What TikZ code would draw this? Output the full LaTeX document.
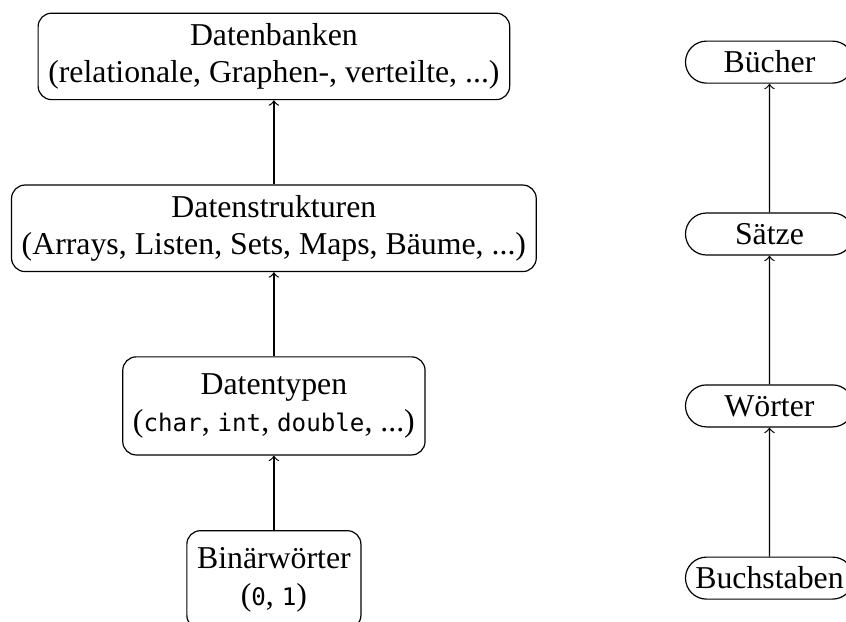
\documentclass[tikz,border=0pt]{standalone}
\usepackage{fontspec}
\setmainfont{Liberation Serif}
\setmonofont[Scale=0.76]{DejaVu Sans Mono}
\usetikzlibrary{shapes.misc}
\tikzset{
  level/.style={draw, rounded corners=4.5pt, align=center, inner sep=3.4pt, font=\fontsize{10.6}{12.4}\selectfont},
  typed/.style={level, minimum height=32.7pt},
  word/.style={draw, rounded rectangle, minimum width=59pt, minimum height=14pt, inner sep=1.5pt, font=\fontsize{10.6}{12.4}\selectfont},
  up/.style={->, line width=0.4pt}
}
\begin{document}
\begin{tikzpicture}[x=1pt,y=1pt]
\useasboundingbox (0,0) rectangle (282,-207);
\clip (0,0) rectangle (282,-207);
\node[level] (db) at (91.3,-18.8) {Datenbanken\\(relationale, Graphen-, verteilte, ...)};
\node[level] (ds) at (91.3,-76.1) {Datenstrukturen\\(Arrays, Listen, Sets, Maps, Bäume, ...)};
\node[typed] (dt) at (91.3,-135.3) {Datentypen\\(\texttt{char}, \texttt{int}, \texttt{double}, ...)};
\node[typed, anchor=north] (bw) at (91.3,-176.7) {Binärwörter\\(\texttt{0}, \texttt{1})};
\draw[up] (ds) -- (db);
\draw[up] (dt) -- (ds);
\draw[up] (bw) -- (dt);
\node[word] (b) at (256.5,-20.7) {Bücher};
\node[word] (s) at (256.5,-78) {Sätze};
\node[word] (w) at (256.5,-135.3) {Wörter};
\node[word] (bu) at (256.5,-192.7) {Buchstaben};
\draw[up] (s) -- (b);
\draw[up] (w) -- (s);
\draw[up] (bu) -- (w);
\end{tikzpicture}
\end{document}
